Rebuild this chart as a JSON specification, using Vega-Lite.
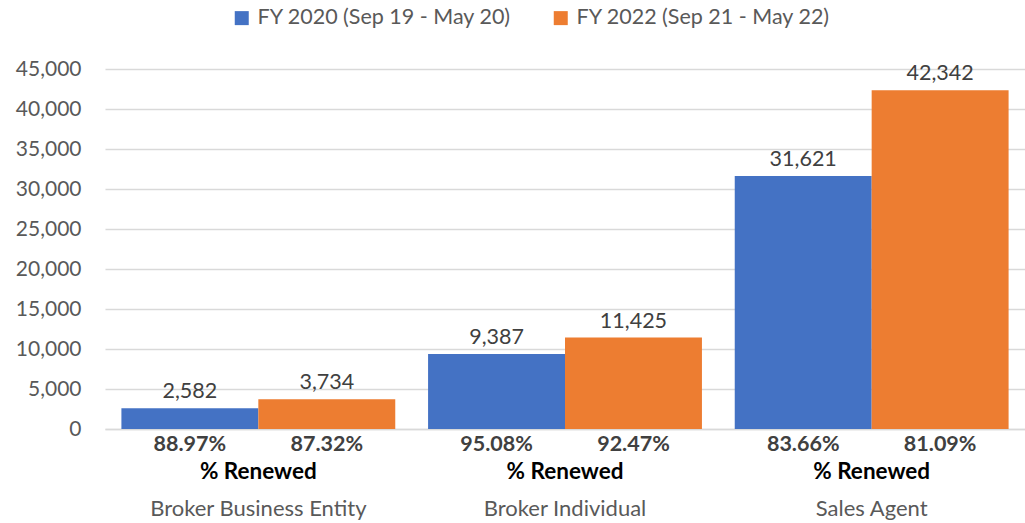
{
  "$schema": "https://vega.github.io/schema/vega-lite/v6.json",
  "width": 920,
  "height": 360,
  "autosize": {"type": "none"},
  "padding": {"left": 105, "top": 69, "right": 0, "bottom": 94},
  "background": "white",
  "config": {
    "font": "Lato",
    "view": {"stroke": null},
    "axis": {"labelFont": "Lato", "labelColor": "#595959", "labelFontSize": 21},
    "axisY": {"domain": false, "ticks": false, "labelPadding": 24, "gridColor": "#D9D9D9", "gridWidth": 1.3, "title": null}
  },
  "datasets": {
    "bars": [
      {"category": "Broker Business Entity", "series": "FY 2020 (Sep 19 - May 20)", "count": 2582, "renewed": "88.97%"},
      {"category": "Broker Business Entity", "series": "FY 2022 (Sep 21 - May 22)", "count": 3734, "renewed": "87.32%"},
      {"category": "Broker Individual", "series": "FY 2020 (Sep 19 - May 20)", "count": 9387, "renewed": "95.08%"},
      {"category": "Broker Individual", "series": "FY 2022 (Sep 21 - May 22)", "count": 11425, "renewed": "92.47%"},
      {"category": "Sales Agent", "series": "FY 2020 (Sep 19 - May 20)", "count": 31621, "renewed": "83.66%"},
      {"category": "Sales Agent", "series": "FY 2022 (Sep 21 - May 22)", "count": 42342, "renewed": "81.09%"}
    ],
    "cats": [
      {"category": "Broker Business Entity", "sub": "% Renewed"},
      {"category": "Broker Individual", "sub": "% Renewed"},
      {"category": "Sales Agent", "sub": "% Renewed"}
    ]
  },
  "encoding": {
    "x": {
      "field": "category",
      "type": "nominal",
      "sort": null,
      "title": null,
      "scale": {"paddingInner": 0.107, "paddingOuter": 0.0535},
      "axis": {
        "ticks": false,
        "domain": true,
        "domainColor": "#D9D9D9",
        "domainWidth": 1.3,
        "labelAngle": 0,
        "labelBaseline": "alphabetic",
        "labelPadding": 86,
        "labelFontSize": 22,
        "labelLimit": 400,
        "grid": false
      }
    }
  },
  "layer": [
    {
      "data": {"name": "bars"},
      "mark": {"type": "bar", "cornerRadius": 0},
      "encoding": {
        "xOffset": {"field": "series", "type": "nominal", "scale": {"paddingInner": 0, "paddingOuter": 0}},
        "y": {
          "field": "count",
          "type": "quantitative",
          "title": null,
          "scale": {"domain": [0, 45000], "nice": false},
          "axis": {"values": [0, 5000, 10000, 15000, 20000, 25000, 30000, 35000, 40000, 45000], "labelExpr": "format(datum.value, ',')"}
        },
        "color": {
          "field": "series",
          "type": "nominal",
          "title": null,
          "scale": {"range": ["#4472C4", "#ED7D31"]},
          "legend": {
            "orient": "none",
            "direction": "horizontal",
            "legendX": 126,
            "legendY": -62,
            "symbolType": "square",
            "symbolSize": 196,
            "symbolStrokeWidth": 0,
            "labelFont": "Lato",
            "labelFontSize": 21.5,
            "labelColor": "#595959",
            "labelOffset": 5,
            "columnPadding": 38,
            "labelLimit": 400
          }
        }
      }
    },
    {
      "data": {"name": "bars"},
      "mark": {"type": "text", "baseline": "alphabetic", "dy": -10, "fontSize": 21.5, "color": "#404040"},
      "encoding": {
        "xOffset": {"field": "series", "type": "nominal"},
        "y": {"field": "count", "type": "quantitative", "title": null, "axis": {"values": [0, 5000, 10000, 15000, 20000, 25000, 30000, 35000, 40000, 45000], "labelExpr": "format(datum.value, ',')"}},
        "text": {"field": "count", "type": "quantitative", "format": ","}
      }
    },
    {
      "data": {"name": "bars"},
      "mark": {"type": "text", "baseline": "alphabetic", "dy": 22, "fontSize": 21.5, "fontWeight": "bold", "color": "#404040"},
      "encoding": {
        "xOffset": {"field": "series", "type": "nominal"},
        "y": {"datum": 0, "type": "quantitative", "title": null, "axis": {"values": [0, 5000, 10000, 15000, 20000, 25000, 30000, 35000, 40000, 45000], "labelExpr": "format(datum.value, ',')"}},
        "text": {"field": "renewed", "type": "nominal"}
      }
    },
    {
      "data": {"name": "cats"},
      "mark": {"type": "text", "baseline": "alphabetic", "dy": 50, "fontSize": 22.5, "fontWeight": "bold", "color": "#000000"},
      "encoding": {
        "y": {"datum": 0, "type": "quantitative", "title": null, "axis": {"values": [0, 5000, 10000, 15000, 20000, 25000, 30000, 35000, 40000, 45000], "labelExpr": "format(datum.value, ',')"}},
        "text": {"field": "sub", "type": "nominal"}
      }
    }
  ]
}
